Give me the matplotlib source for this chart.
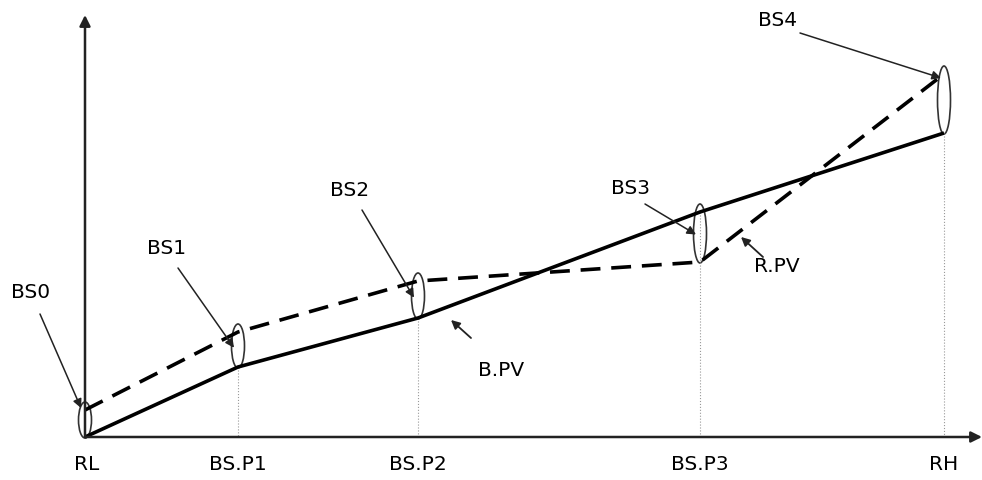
"""
Sketch of the bandwidth-scaling profile: base profile value (B.PV) versus
re-scaled profile value (R.PV) between RL and RH, with breakpoints BS.P1-3.
"""

import matplotlib
matplotlib.use('Agg')
from matplotlib import pyplot
from matplotlib.patches import Ellipse

# Breakpoint positions and profile values (picture units, y grows downward).
x_pts = [85, 238, 418, 700, 944]
bpv = [437, 367, 318, 212, 133]
rpv = [410, 332, 281, 262, 74]
x_labels = ['RL', 'BS.P1', 'BS.P2', 'BS.P3', 'RH']
bs_labels = ['BS0', 'BS1', 'BS2', 'BS3', 'BS4']
bs_text = [(31, 292), (167, 248), (350, 190), (631, 189), (778, 20)]
bs_tail = [(40, 314), (178, 268), (362, 210), (645, 204), (800, 33)]

pyplot.rc('font', family='DejaVu Sans', size=14.5)
fig = pyplot.figure(figsize=(9.82, 4.8), dpi=100)
ax = fig.add_axes([0, 0, 1, 1])
ax.set_xlim(0, 982)
ax.set_ylim(480, 0)
ax.axis('off')

x0, y0 = x_pts[0], bpv[0]

# Axes with arrow heads.
ax.annotate('', xy=(982, y0), xytext=(x0, y0),
            arrowprops=dict(arrowstyle='-|>', color='#222222', lw=1.8,
                            mutation_scale=16, shrinkA=0, shrinkB=0))
ax.annotate('', xy=(x0, 15), xytext=(x0, y0),
            arrowprops=dict(arrowstyle='-|>', color='#222222', lw=1.8,
                            mutation_scale=16, shrinkA=0, shrinkB=0))

# Dotted guides down to the x-axis.
for x, y in zip(x_pts[1:], bpv[1:]):
    ax.plot([x, x], [y, y0], color='#999999', lw=0.8, linestyle=':')

# Profiles.
ax.plot(x_pts, bpv, color='black', lw=2.6, solid_capstyle='butt')
ax.plot(x_pts, rpv, color='black', lw=2.6, linestyle=(0, (5.5, 3)))

# Ellipses marking the scaling at each breakpoint.
for x, yb, yr in zip(x_pts, bpv, rpv):
    top = min(yb, yr) - 8
    bottom = max(yb, yr) + 1
    ax.add_patch(Ellipse((x, (top + bottom) / 2), 13, bottom - top,
                         fill=False, edgecolor='#333333', lw=1.2))

# BS labels with arrows.
for label, (tx, ty), tail, x, yb, yr in zip(bs_labels, bs_text, bs_tail,
                                            x_pts, bpv, rpv):
    tip = (x - 4, min(yb, yr) + 0.45 * abs(yb - yr) if label != 'BS0' else 408)
    if label == 'BS4':
        tip = (x - 3, 78)
    ax.text(tx, ty, label, ha='center', va='center')
    ax.annotate('', xy=tip, xytext=tail,
                arrowprops=dict(arrowstyle='-|>', color='#222222', lw=1.1,
                                mutation_scale=13, shrinkA=0, shrinkB=0))

# Profile labels.
ax.text(501, 370, 'B.PV', ha='center', va='center')
ax.annotate('', xy=(451, 320), xytext=(471, 338),
            arrowprops=dict(arrowstyle='-|>', color='#222222', lw=1.3,
                            mutation_scale=13, shrinkA=0, shrinkB=0))
ax.text(777, 266, 'R.PV', ha='center', va='center')
ax.annotate('', xy=(741, 237), xytext=(763, 257),
            arrowprops=dict(arrowstyle='-|>', color='#222222', lw=1.3,
                            mutation_scale=13, shrinkA=0, shrinkB=0))

# Breakpoint names under the x-axis.
for x, label in zip(x_pts, x_labels):
    ax.text(x + (2 if label == 'RL' else 0), 465, label,
            ha='center', va='center')

fig.savefig('out.png', dpi=100)
